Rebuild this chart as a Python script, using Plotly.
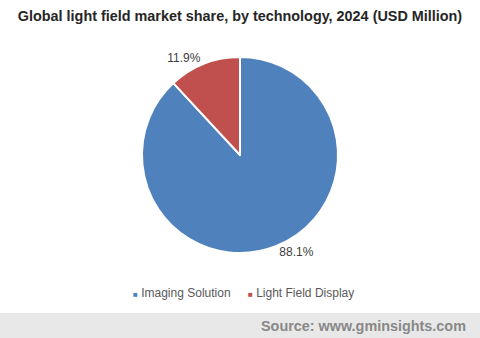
import plotly.graph_objects as go

labels = ["Imaging Solution", "Light Field Display"]
values = [88.1, 11.9]
colors = ["#4f81bd", "#c0504d"]

W, H = 480, 338
FONT = "Liberation Sans, Arial"
fig = go.Figure(go.Pie(
    labels=labels, values=values, sort=False, direction="clockwise", rotation=0,
    marker=dict(colors=colors, line=dict(color="white", width=2)),
    texttemplate="%{value:.1f}%", textposition="outside",
    textfont=dict(family=FONT, size=12, color="#404040"),
    domain=dict(x=[0, 1], y=[(H - 253) / H, (H - 57) / H]),
    hoverinfo="label+percent", showlegend=False,
))

legend_x = [131, 246]
legend_ann = [
    dict(text=f"<span style='color:{c};font-size:8px'>■</span> {lab}",
         xref="paper", yref="paper", x=lx / W, xanchor="left", y=1 - 293 / H, yanchor="middle",
         showarrow=False, font=dict(family=FONT, size=12, color="#595959"))
    for lab, c, lx in zip(labels, colors, legend_x)
]

fig.update_layout(
    width=W, height=H, margin=dict(l=0, r=0, t=0, b=0, autoexpand=False),
    paper_bgcolor="white", plot_bgcolor="white",
    title=dict(text="<b>Global light field market share, by technology, 2024 (USD Million)</b>",
               x=0.5, xanchor="center", y=1 - 16 / H, yanchor="middle",
               font=dict(family=FONT, size=14.4, color="#262626")),
    shapes=[dict(type="rect", xref="paper", yref="paper", x0=0, x1=1, y0=0, y1=25 / H,
                 fillcolor="#e8e8e8", line=dict(width=0), layer="below")],
    annotations=legend_ann + [dict(text="<b>Source: www.gminsights.com</b>", xref="paper", yref="paper",
                      x=1 - 12 / W, xanchor="right", y=12.5 / H, yanchor="middle", showarrow=False,
                      font=dict(family=FONT, size=14.4, color="#888888"))],
)
fig.write_html("out.html")
